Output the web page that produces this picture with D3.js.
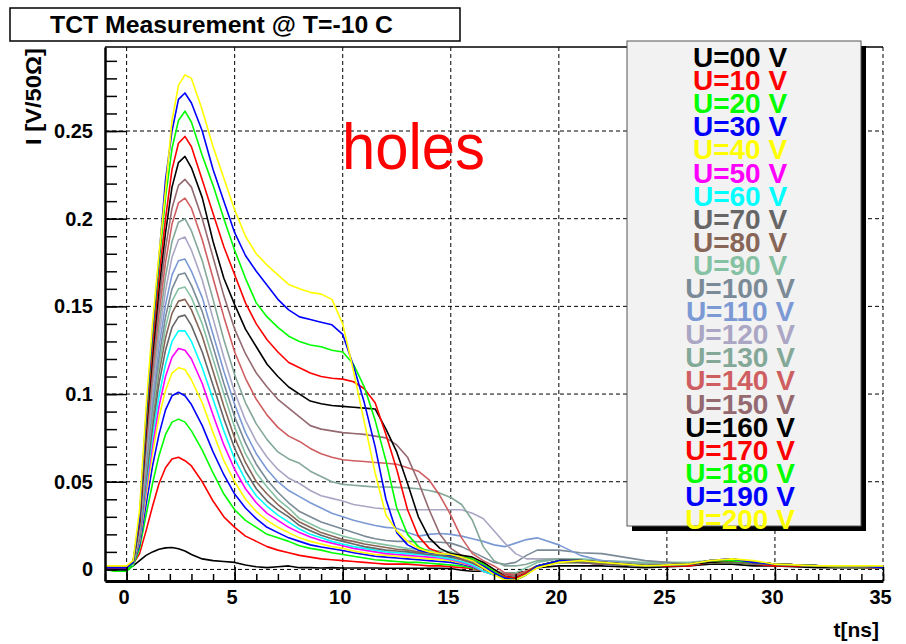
<!DOCTYPE html>
<html>
<head>
<meta charset="utf-8">
<script src="https://cdn.jsdelivr.net/npm/d3@7"></script>
<style>
  body { margin: 0; background: #fff; }
  svg { display: block; font-family: "Liberation Sans", Arial, sans-serif; }
</style>
</head>
<body>
<div id="chart"></div>
<script>
// sampling times of the traces (ns)
const times = [-1, -0.5, 0, 0.3, 0.6, 0.9, 1.2, 1.5, 1.8, 2.1, 2.4, 2.7, 3,
  3.5, 4, 4.5, 5, 5.5, 6, 6.5, 7, 7.5, 8, 8.5, 9, 9.5, 10, 10.5, 11, 11.5, 12,
  12.5, 13, 13.5, 14, 14.5, 15, 15.5, 16, 16.5, 17, 17.5, 18, 18.5, 19,
  20, 21, 22, 24, 26, 27, 28, 29, 30, 32, 34, 35];

// bias voltages and line colours
const labels = ["U=00 V", "U=10 V", "U=20 V", "U=30 V", "U=40 V", "U=50 V", "U=60 V",
  "U=70 V", "U=80 V", "U=90 V", "U=100 V", "U=110 V", "U=120 V", "U=130 V", "U=140 V",
  "U=150 V", "U=160 V", "U=170 V", "U=180 V", "U=190 V", "U=200 V"];
const colors = ["#000000", "#ff0000", "#00ff00", "#0000ff", "#ffff00", "#ff00ff", "#00ffff",
  "#666666", "#876657", "#85c2a3", "#7a8a96", "#7b99d4", "#aaa6c4", "#84a898", "#cf5e61",
  "#946970", "#000000", "#ff0000", "#00ff00", "#0000ff", "#ffff00"];

// current I [V/50 Ohm], one value per entry of times
const u000 = [.001, .001, .001,
  .002, .005, .008, .010, .0115, .0123, .0125, .0118, .0105, .0085,
  .006, .005, .0045, .004, .0025, .0015, .001, .0015, .002, .001,
  .001, .0008, .001, .0008, .0008, .0008, .0008, .0007, .0007, .0007,
  .0007, .0007, .0006, .0005, -.0005, -.001, -.001, -.0015, -.002, -.002,
  -.001, .001,
  .002, .002, .002, .001, .002, .003, .003, .002, .002, .001, .001, .001];
const u010 = [.001, .001, .001,
  .003, .009, .022, .036, .049, .058, .063, .064, .062, .059,
  .050, .039, .030, .024, .019, .016, .013, .011, .0095, .008,
  .007, .006, .0055, .005, .0045, .004, .0035, .003, .003, .003,
  .0025, .002, .002, .0015, .001, .0005, -.001, -.002, -.003, -.003,
  -.001, .002,
  .004, .004, .003, .002, .002, .004, .004, .003, .002, .002, .001, .001];
const u020 = [0, -.001, -.001,
  .002, .012, .031, .049, .065, .077, .084, .0857, .084, .079,
  .068, .055, .043, .034, .028, .024, .020, .018, .016, .0135,
  .012, .011, .0095, .0085, .0075, .0065, .0055, .005, .0045, .004,
  .004, .0035, .003, .0025, .002, .001, -.001, -.003, -.004, -.004,
  -.001, .002,
  .004, .004, .003, .002, .003, .004, .004, .003, .003, .002, .001, .002];
const u030 = [.001, 0, 0,
  .003, .014, .037, .059, .077, .091, .099, .101, .099, .094,
  .082, .067, .054, .043, .035, .029, .024, .021, .018, .016,
  .014, .0128, .0118, .0108, .0095, .0085, .0075, .007, .0065, .006,
  .0055, .005, .0045, .004, .003, .0015, -.001, -.003, -.005, -.005,
  -.002, .002,
  .005, .005, .003, .002, .003, .005, .006, .004, .003, .002, .002, .001];
const u040 = [.001, .001, .001,
  .003, .016, .042, .066, .087, .102, .112, .115, .114, .108,
  .095, .078, .062, .050, .040, .033, .028, .024, .021, .018,
  .016, .0145, .013, .012, .0105, .0095, .0085, .008, .0075, .007,
  .0065, .006, .0055, .005, .0035, .002, -.001, -.003, -.005, -.006,
  -.003, .001,
  .004, .005, .004, .002, .003, .005, .005, .004, .003, .002, .002, .002];
const u050 = [.001, .001, .001,
  .003, .017, .045, .071, .093, .110, .121, .126, .125, .120,
  .106, .088, .071, .057, .046, .038, .032, .028, .024, .021,
  .0185, .0165, .015, .0135, .012, .011, .010, .009, .0085, .008,
  .0075, .007, .0065, .0055, .004, .002, -.001, -.003, -.005, -.005,
  -.002, .002,
  .005, .004, .003, .002, .003, .004, .005, .004, .003, .002, .002, .001];
const u060 = [.001, .001, .001,
  .003, .018, .048, .076, .099, .117, .130, .136, .136, .130,
  .115, .097, .079, .063, .051, .042, .036, .031, .027, .023,
  .020, .018, .016, .0145, .013, .012, .011, .010, .0095, .009,
  .0085, .008, .007, .006, .0045, .0025, -.001, -.003, -.005, -.005,
  -.002, .002,
  .004, .005, .003, .002, .003, .004, .005, .004, .003, .002, .002, .002];
const u070 = [.001, .001, .001,
  .003, .018, .051, .081, .106, .125, .138, .144, .145, .139,
  .124, .105, .086, .069, .056, .046, .039, .034, .030, .025,
  .022, .0195, .0175, .016, .0145, .013, .012, .011, .0105, .010,
  .0093, .0085, .008, .007, .0055, .0035, .0005, -.0025, -.004, -.004,
  -.002, .002,
  .004, .004, .003, .002, .003, .004, .004, .003, .003, .002, .001, .001];
const u080 = [.001, .001, .001,
  .003, .019, .054, .086, .112, .132, .146, .153, .154, .148,
  .133, .113, .093, .075, .061, .050, .043, .037, .032, .027,
  .024, .021, .019, .017, .016, .0145, .0135, .0125, .0115, .011,
  .010, .0095, .009, .008, .006, .004, .001, -.002, -.004, -.004,
  -.002, .002,
  .004, .005, .003, .002, .003, .004, .005, .003, .003, .002, .002, .001];
const u090 = [.001, .001, .001,
  .003, .020, .056, .089, .116, .138, .153, .160, .161, .155,
  .140, .120, .100, .081, .066, .055, .047, .040, .035, .029,
  .026, .023, .021, .019, .0175, .016, .015, .014, .013, .012,
  .0115, .011, .0105, .010, .008, .005, .002, -.001, -.002, -.002,
  .001, .004,
  .006, .006, .005, .004, .004, .005, .005, .004, .003, .002, .002, .001];
const u100 = [.001, .001, .001,
  .003, .021, .059, .093, .121, .144, .160, .168, .169, .162,
  .147, .127, .106, .087, .072, .060, .051, .044, .038, .033,
  .030, .027, .025, .023, .021, .019, .0175, .0165, .016, .016,
  .0158, .0158, .0155, .015, .013, .010, .007, .004, .003, .004,
  .008, .011,
  .011, .0095, .009, .005, .003, .004, .005, .004, .003, .002, .002, .001];
const u110 = [.001, .001, .001,
  .003, .022, .062, .097, .127, .151, .168, .176, .177, .170,
  .155, .134, .113, .094, .078, .066, .057, .050, .045, .0415,
  .038, .035, .032, .030, .028, .0265, .025, .024, .0235, .021,
  .019, .020, .0205, .020, .019, .0175, .016, .014, .013, .015,
  .017, .018,
  .014, .008, .005, .003, .003, .004, .005, .004, .003, .002, .002, .001];
const u120 = [.001, .001, .001,
  .003, .023, .065, .102, .133, .159, .178, .188, .1895, .182,
  .165, .143, .121, .101, .085, .073, .064, .057, .052, .049,
  .045, .042, .0405, .039, .037, .036, .035, .0345, .034, .034,
  .034, .034, .034, .034, .034, .032, .029, .022, .015, .009,
  .006, .006,
  .006, .005, .004, .003, .003, .004, .005, .004, .003, .002, .002, .001];
const u130 = [.001, .001, .001,
  .004, .024, .068, .107, .139, .167, .187, .198, .200, .193,
  .176, .154, .131, .111, .095, .083, .074, .067, .063, .0605,
  .056, .053, .050, .0485, .048, .0475, .047, .047, .0468, .0465,
  .046, .045, .0435, .041, .037, .028, .013, .005, .002, .002,
  .003, .005,
  .006, .005, .004, .003, .003, .004, .005, .004, .003, .002, .002, .001];
const u140 = [.001, .001, .001,
  .004, .025, .071, .112, .146, .175, .197, .209, .2117, .206,
  .188, .166, .144, .124, .109, .097, .088, .081, .076, .073,
  .069, .066, .064, .0625, .062, .0615, .061, .0605, .060, .058,
  .056, .051, .042, .031, .018, .009, .005, .002, -.002, -.003,
  -.001, .002,
  .005, .005, .004, .002, .003, .004, .005, .004, .003, .002, .002, .001];
const u150 = [.001, .001, .001,
  .004, .026, .075, .117, .153, .183, .206, .219, .2224, .218,
  .200, .178, .156, .137, .123, .112, .104, .097, .092, .087,
  .082, .080, .079, .078, .0775, .077, .076, .075, .071, .064,
  .050, .034, .020, .012, .008, .006, .004, .000, -.003, -.004,
  -.002, .002,
  .005, .005, .004, .002, .003, .004, .005, .004, .003, .002, .002, .001];
const u160 = [.001, .001, .001,
  .004, .027, .078, .122, .160, .192, .218, .232, .2355, .229,
  .212, .187, .166, .151, .137, .127, .117, .110, .104, .100,
  .096, .0945, .0935, .093, .0925, .092, .0915, .080, .067, .049,
  .030, .018, .012, .009, .008, .007, .004, .000, -.004, -.005,
  -.002, .002,
  .005, .005, .004, .002, .003, .004, .005, .004, .003, .002, .002, .001];
const u170 = [.001, .001, .001,
  .004, .028, .082, .128, .167, .200, .228, .243, .2469, .241,
  .222, .203, .184, .168, .152, .140, .131, .124, .118, .115,
  .112, .110, .109, .1085, .107, .103, .095, .077, .057, .034,
  .019, .012, .0095, .008, .007, .006, .003, -.001, -.004, -.005,
  -.002, .002,
  .005, .005, .004, .002, .003, .005, .005, .004, .003, .002, .002, .001];
const u180 = [0, -.001, -.001,
  .004, .030, .086, .134, .175, .212, .240, .256, .2613, .255,
  .236, .219, .200, .182, .166, .152, .144, .138, .133, .130,
  .128, .127, .125, .124, .117, .104, .085, .062, .035, .020,
  .013, .010, .009, .008, .007, .006, .003, -.001, -.005, -.006,
  -.003, .002,
  .005, .005, .004, .002, .003, .005, .005, .004, .003, .002, .002, .001];
const u190 = [.001, .001, .001,
  .004, .030, .088, .136, .178, .222, .250, .268, .2717, .266,
  .250, .228, .210, .192, .179, .170, .162, .154, .148, .144,
  .1425, .141, .1395, .134, .116, .095, .070, .040, .021, .014,
  .011, .0095, .009, .008, .007, .005, .002, -.002, -.005, -.006,
  -.003, .002,
  .005, .005, .004, .002, .003, .005, .006, .004, .003, .002, .002, .001];
const u200 = [.002, .002, .002,
  .005, .034, .092, .140, .180, .216, .256, .276, .282, .280,
  .262, .241, .223, .205, .190, .180, .1735, .168, .1625, .160,
  .158, .157, .154, .140, .113, .084, .055, .031, .022, .016,
  .012, .010, .009, .0085, .007, .005, .001, -.003, -.006, -.006,
  -.003, .001,
  .004, .005, .004, .002, .003, .005, .006, .005, .003, .002, .002, .002];

const traces = [u000, u010, u020, u030, u040, u050, u060, u070, u080, u090, u100,
  u110, u120, u130, u140, u150, u160, u170, u180, u190, u200];

// axis ticks
const xTicks = [0, 5, 10, 15, 20, 25, 30, 35];
const yTicks = [0, 0.05, 0.1, 0.15, 0.2, 0.25];
const yTickLabels = ["0", "0.05", "0.1", "0.15", "0.2", "0.25"];

// canvas and frame
const width = 906;
const height = 644;
const frame = { left: 105, right: 883, top: 47, bottom: 581 };

const svg = d3
  .select("#chart")
  .append("svg")
  .attr("width", width)
  .attr("height", height);

const xScale = d3.scaleLinear().domain([-1, 35]).range([frame.left, frame.right]);
const yScale = d3.scaleLinear().domain([-0.0066, 0.2979]).range([frame.bottom, frame.top]);

// dashed grid
svg.append("g")
  .selectAll("line")
  .data(xTicks)
  .enter()
  .append("line")
  .attr("x1", (d) => xScale(d))
  .attr("x2", (d) => xScale(d))
  .attr("y1", frame.top)
  .attr("y2", frame.bottom)
  .attr("stroke", "#000")
  .attr("stroke-width", 1)
  .attr("stroke-dasharray", "4,3");

svg.append("g")
  .selectAll("line")
  .data(yTicks)
  .enter()
  .append("line")
  .attr("x1", frame.left)
  .attr("x2", frame.right)
  .attr("y1", (d) => yScale(d))
  .attr("y2", (d) => yScale(d))
  .attr("stroke", "#000")
  .attr("stroke-width", 1)
  .attr("stroke-dasharray", "4,3");

// clip traces to the frame
svg.append("clipPath")
  .attr("id", "clip")
  .append("rect")
  .attr("x", frame.left)
  .attr("y", frame.top)
  .attr("width", frame.right - frame.left)
  .attr("height", frame.bottom - frame.top);

const line = d3
  .line()
  .x((d, i) => xScale(times[i]))
  .y((d) => yScale(d));

svg.append("g")
  .attr("clip-path", "url(#clip)")
  .selectAll("path")
  .data(traces)
  .enter()
  .append("path")
  .attr("d", line)
  .attr("fill", "none")
  .attr("stroke", (d, i) => colors[i])
  .attr("stroke-width", 1.6)
  .attr("stroke-linejoin", "round");

// frame top line
svg.append("line")
  .attr("x1", frame.left).attr("x2", frame.right)
  .attr("y1", frame.top).attr("y2", frame.top)
  .attr("stroke", "#000").attr("stroke-width", 1.5);

// axes: ticks point into the frame like ROOT
const fmtY = (d) => yTickLabels[yTicks.indexOf(d)];

const yMinor = svg.append("g")
  .attr("transform", "translate(" + frame.left + ",0)")
  .call(d3.axisLeft(yScale).tickValues(d3.range(0, 0.2951, 0.01)).tickSize(-12).tickFormat(""));
yMinor.select(".domain").remove();

const yAxis = svg.append("g")
  .attr("transform", "translate(" + frame.left + ",0)")
  .call(d3.axisLeft(yScale).tickValues(yTicks).tickSize(-22).tickSizeOuter(0).tickPadding(12).tickFormat(fmtY));

const xMinor = svg.append("g")
  .attr("transform", "translate(0," + frame.bottom + ")")
  .call(d3.axisBottom(xScale).tickValues(d3.range(-1, 35.01, 1)).tickSize(-7).tickFormat(""));
xMinor.select(".domain").remove();

const xAxis = svg.append("g")
  .attr("transform", "translate(0," + frame.bottom + ")")
  .call(d3.axisBottom(xScale).tickValues(xTicks).tickSize(-14).tickSizeOuter(0).tickPadding(9).tickFormat(d3.format("d")));

svg.selectAll(".tick line").attr("stroke", "#000").attr("stroke-width", 1.5);
yAxis.select(".domain").attr("stroke", "#000").attr("stroke-width", 2.5);
xAxis.select(".domain").attr("stroke", "#000").attr("stroke-width", 3);
[xAxis, yAxis].forEach((g) =>
  g.selectAll("text")
    .attr("font-family", "'Liberation Sans', Arial, sans-serif")
    .attr("font-size", 20)
    .attr("font-weight", "bold")
    .attr("fill", "#000"));
xAxis.selectAll("text").attr("dx", -3);

// axis titles
svg.append("text")
  .attr("transform", "translate(41,48) rotate(-90)")
  .attr("text-anchor", "end")
  .attr("font-size", 22)
  .attr("font-weight", "bold")
  .attr("textLength", 97)
  .attr("lengthAdjust", "spacingAndGlyphs")
  .text("I [V/50\u03a9]");

svg.append("text")
  .attr("x", 879)
  .attr("y", 637)
  .attr("text-anchor", "end")
  .attr("font-size", 21)
  .attr("font-weight", "bold")
  .text("t[ns]");

// title box
svg.append("rect")
  .attr("x", 10).attr("y", 8)
  .attr("width", 450).attr("height", 33)
  .attr("fill", "#fff")
  .attr("stroke", "#000")
  .attr("stroke-width", 1.5);

svg.append("text")
  .attr("x", 50)
  .attr("y", 33)
  .attr("font-size", 24)
  .attr("font-weight", "bold")
  .attr("textLength", 343)
  .attr("lengthAdjust", "spacingAndGlyphs")
  .text("TCT Measurement @ T=-10 C");

// annotation
svg.append("text")
  .attr("x", 342)
  .attr("y", 169)
  .attr("font-size", 65)
  .attr("fill", "#ff0000")
  .attr("textLength", 143)
  .attr("lengthAdjust", "spacingAndGlyphs")
  .text("holes");

// legend with shadow
const legend = { x: 627, y: 41, w: 234, h: 485 };
svg.append("rect")
  .attr("x", legend.x + 5).attr("y", legend.y + 5)
  .attr("width", legend.w).attr("height", legend.h)
  .attr("fill", "#000");
svg.append("rect")
  .attr("x", legend.x).attr("y", legend.y)
  .attr("width", legend.w).attr("height", legend.h)
  .attr("fill", "#f2f2f2")
  .attr("stroke", "#555")
  .attr("stroke-width", 1);

svg.append("g")
  .selectAll("text")
  .data(labels)
  .enter()
  .append("text")
  .attr("x", 740)
  .attr("y", (d, i) => 67 + i * 23.1)
  .attr("text-anchor", "middle")
  .attr("font-size", 28)
  .attr("font-weight", "bold")
  .attr("fill", (d, i) => colors[i])
  .text((d) => d);
</script>
</body>
</html>
